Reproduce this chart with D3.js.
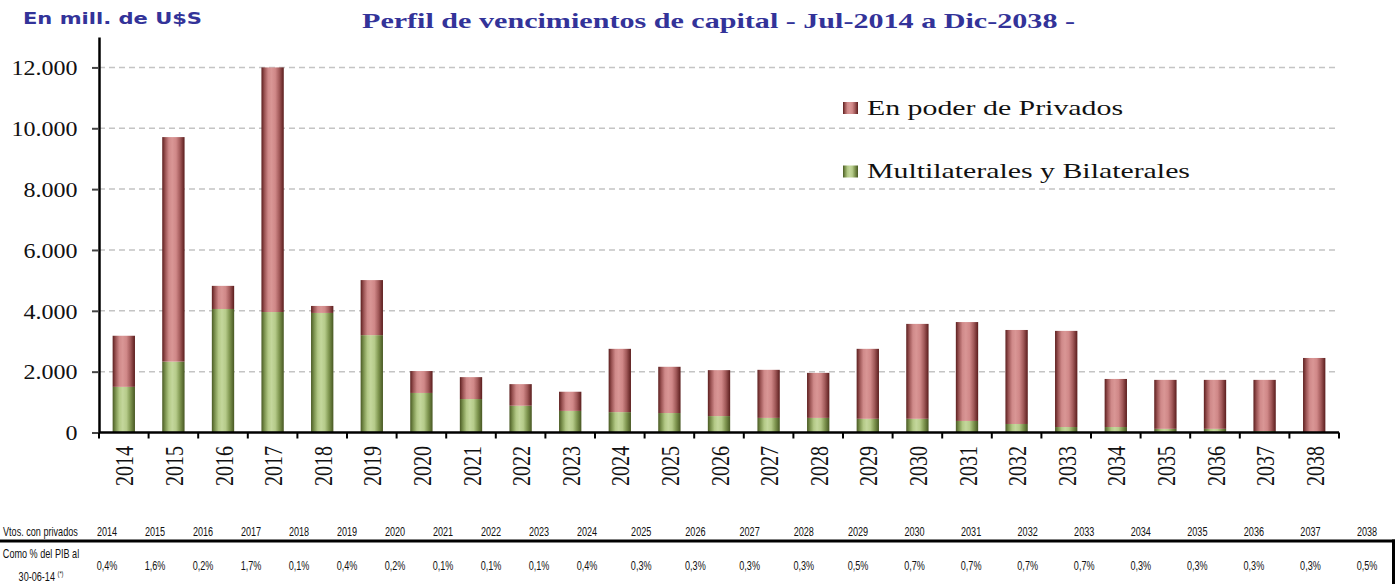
<!DOCTYPE html>
<html>
<head>
<meta charset="utf-8">
<script src="https://cdn.jsdelivr.net/npm/d3@7"></script>
<style>
  body { margin: 0; background: #fff; }
  svg { display: block; }
</style>
</head>
<body>
<svg id="chart" width="1399" height="584"></svg>
<script>
// --- Data (millones de U$S) ---
const years = ["2014", "2015", "2016", "2017", "2018", "2019", "2020", "2021", "2022", "2023",
               "2024", "2025", "2026", "2027", "2028", "2029", "2030", "2031", "2032", "2033",
               "2034", "2035", "2036", "2037", "2038"];
const multilaterales = [1500, 2330, 4060, 3960, 3930, 3200, 1300, 1100, 880, 710,
                        670, 640, 540, 480, 480, 450, 450, 380, 280, 180,
                        180, 120, 120, 50, 0];
const privados = [1680, 7380, 760, 8040, 230, 1810, 720, 720, 710, 630,
                  2080, 1520, 1510, 1580, 1480, 2300, 3120, 3250, 3090, 3160,
                  1580, 1610, 1610, 1680, 2450];
const pctPib = ["0,4%", "1,6%", "0,2%", "1,7%", "0,1%", "0,4%", "0,2%", "0,1%", "0,1%", "0,1%",
                "0,4%", "0,3%", "0,3%", "0,3%", "0,3%", "0,5%", "0,7%", "0,7%", "0,7%", "0,7%",
                "0,3%", "0,3%", "0,3%", "0,3%", "0,5%"];
const yTicks = [0, 2000, 4000, 6000, 8000, 10000, 12000];
const seriesNames = ["Multilaterales y Bilaterales", "En poder de Privados"];

// --- Layout ---
const W = 1399, H = 584;
const plotL = 99, plotR = 1339, plotB = 432.5, plotT = 37;
const serif = "'Liberation Serif', 'Times New Roman', serif";
const sans = "'Liberation Sans', Arial, sans-serif";
const titleColor = "#333399";

const svg = d3.select("#chart");

// horizontal bar gradients: dark edges, light centre
const defs = svg.append("defs");
const gradStops = {
  gradPriv: ["#5c1e1e", "#9c5555", "#d08a8a", "#d99695", "#d08888", "#a25a5a", "#5a1c1c"],
  gradMulti: ["#4a5a24", "#7d9450", "#b3c986", "#c4d79c", "#b6cb8a", "#7f9650", "#475722"]
};
Object.entries(gradStops).forEach(([id, cols]) => {
  const g = defs.append("linearGradient").attr("id", id)
    .attr("x1", 0).attr("x2", 1).attr("y1", 0).attr("y2", 0);
  cols.forEach((c, i) => g.append("stop")
    .attr("offset", [0, 0.14, 0.3, 0.45, 0.62, 0.8, 1][i]).attr("stop-color", c));
});

// --- Scales ---
const x = d3.scaleBand().domain(years).range([plotL, plotR])
  .paddingInner(0.55).paddingOuter(0.275);
const y = d3.scaleLinear().domain([0, 13000]).range([plotB, plotT]);

const locale = d3.formatLocale({ decimal: ",", thousands: ".", grouping: [3], currency: ["", ""] });
const fmt = locale.format(",");

// gridlines
svg.append("g").selectAll("line")
  .data(yTicks.filter(d => d > 0))
  .join("line")
  .attr("x1", plotL).attr("x2", plotR)
  .attr("y1", d => y(d)).attr("y2", d => y(d))
  .attr("stroke", "#c4c4c4").attr("stroke-width", 1.5)
  .attr("stroke-dasharray", "6,4");

// --- Stacked bars ---
const table = years.map((yr, i) => ({ year: yr, multi: multilaterales[i], priv: privados[i] }));
const stack = d3.stack().keys(["multi", "priv"])(table);
const fills = { multi: "url(#gradMulti)", priv: "url(#gradPriv)" };

svg.append("g").selectAll("g")
  .data(stack)
  .join("g")
  .attr("fill", s => fills[s.key])
  .selectAll("rect")
  .data(s => s)
  .join("rect")
  .attr("x", d => x(d.data.year))
  .attr("width", x.bandwidth())
  .attr("y", d => y(d[1]))
  .attr("height", d => y(d[0]) - y(d[1]));

// --- Y axis ---
const yAxis = svg.append("g")
  .attr("transform", `translate(${plotL},0)`)
  .call(d3.axisLeft(y).tickValues(yTicks).tickFormat(fmt).tickSize(7).tickSizeOuter(0).tickPadding(11));
yAxis.select(".domain").attr("stroke", "#000").attr("stroke-width", 2.5);
yAxis.selectAll(".tick line").attr("stroke", "#444").attr("stroke-width", 2);
yAxis.selectAll(".tick text")
  .attr("font-family", serif).attr("font-size", 20).attr("fill", "#111")
  .attr("dy", "0.36em")
  .attr("transform", "scale(1.2,1)");

// --- X axis ---
svg.append("line")
  .attr("x1", plotL).attr("x2", plotR).attr("y1", plotB).attr("y2", plotB)
  .attr("stroke", "#000").attr("stroke-width", 2.5);
const step = x.step();
svg.append("g").selectAll("line")
  .data(years.concat(["end"]))
  .join("line")
  .attr("x1", (d, i) => plotL + i * step).attr("x2", (d, i) => plotL + i * step)
  .attr("y1", plotB).attr("y2", plotB + 6)
  .attr("stroke", "#000").attr("stroke-width", 2);

svg.append("g").selectAll("text")
  .data(years)
  .join("text")
  .attr("transform", d => `translate(${x(d) + x.bandwidth() / 2 + 1},446) scale(1.22,1) rotate(-90)`)
  .attr("text-anchor", "end")
  .attr("dy", "0.35em")
  .attr("font-family", serif).attr("font-size", 20).attr("fill", "#111")
  .text(d => d);

// --- Titles ---
svg.append("text")
  .attr("x", 362).attr("y", 28)
  .attr("font-family", serif).attr("font-weight", "bold").attr("font-size", 22)
  .attr("fill", titleColor)
  .attr("textLength", 713).attr("lengthAdjust", "spacingAndGlyphs")
  .text("Perfil de vencimientos de capital - Jul-2014 a Dic-2038 -");

svg.append("text")
  .attr("x", 23).attr("y", 24)
  .attr("font-family", "'DejaVu Sans', Verdana, sans-serif").attr("font-weight", "bold").attr("font-size", 16)
  .attr("fill", titleColor)
  .attr("textLength", 179).attr("lengthAdjust", "spacingAndGlyphs")
  .text("En mill. de U$S");

// --- Legend ---
const legendItems = [
  { name: seriesNames[1], fill: fills.priv, y: 102, w: 256 },
  { name: seriesNames[0], fill: fills.multi, y: 165.5, w: 323 }
];
const lg = svg.append("g").selectAll("g").data(legendItems).join("g")
  .attr("transform", d => `translate(843,${d.y})`);
lg.append("rect").attr("width", 15).attr("height", 12).attr("fill", d => d.fill);
lg.append("text")
  .attr("x", 24).attr("y", 12.5)
  .attr("font-family", serif).attr("font-size", 22).attr("fill", "#111")
  .attr("textLength", d => d.w).attr("lengthAdjust", "spacingAndGlyphs")
  .text(d => d.name);

// --- Bottom table (condensed text: Arial metrics squeezed horizontally) ---
const colX = d3.scaleLinear().domain([0, 10, 15, 24]).range([107, 587, 858, 1367]);
const squeeze = 0.7;
const tbl = svg.append("g").attr("font-family", sans).attr("font-size", 13).attr("fill", "#111");
const cell = (tx, ty, anchor) => tbl.append("text")
  .attr("transform", `translate(${tx},${ty}) scale(${squeeze},1)`)
  .attr("text-anchor", anchor);

cell(3, 536, "start").text("Vtos. con privados");
years.forEach((d, i) => cell(colX(i), 536, "middle").text(d));

cell(41, 558, "middle").text("Como % del PIB al");
const foot = cell(41, 581, "middle");
foot.append("tspan").text("30-06-14 ");
foot.append("tspan").attr("font-size", 8).attr("dy", -5).text("(*)");
pctPib.forEach((d, i) => cell(colX(i), 570, "middle").text(d));

svg.append("line").attr("x1", 0).attr("x2", 1395).attr("y1", 541).attr("y2", 541)
  .attr("stroke", "#000").attr("stroke-width", 3);
svg.append("line").attr("x1", 1393.5).attr("x2", 1393.5).attr("y1", 539.5).attr("y2", H)
  .attr("stroke", "#000").attr("stroke-width", 3);
</script>
</body>
</html>
